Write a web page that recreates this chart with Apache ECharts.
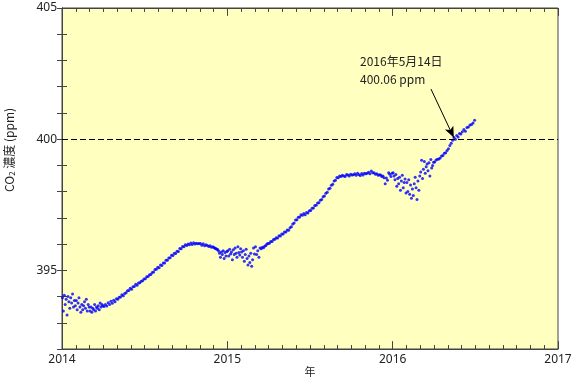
<!DOCTYPE html>
<html>
<head>
<meta charset="utf-8">
<script src="https://cdn.jsdelivr.net/npm/echarts@6/dist/echarts.min.js"></script>
<style>
html,body{margin:0;padding:0;background:#fff;}
#chart{width:573px;height:378px;}
</style>
</head>
<body>
<div id="chart"></div>
<script>
// ---- data ----
const months = [
  '2014-01','2014-02','2014-03','2014-04','2014-05','2014-06',
  '2014-07','2014-08','2014-09','2014-10','2014-11','2014-12',
  '2015-01','2015-02','2015-03','2015-04','2015-05','2015-06',
  '2015-07','2015-08','2015-09','2015-10','2015-11','2015-12',
  '2016-01','2016-02','2016-03','2016-04','2016-05','2016-06'
];
const co2Values = [
  [393.95,393.45,394.05,393.70,393.90,393.30,394.00,393.80,393.55,393.95,393.75,394.10,393.60,393.85,393.65],
  [393.85,393.50,393.75,393.95,393.60,393.40,393.70,393.50,393.65,393.80,393.55,393.90,393.45,393.70,393.60],
  [393.45,393.60,393.40,393.55,393.50,393.70,393.45,393.60,393.55,393.65,393.50,393.75,393.60,393.70,393.65],
  [393.62,393.70,393.64,393.76,393.70,393.82,393.74,393.86,393.80,393.92],
  [393.90,393.97,393.98,394.07,394.03,394.12,394.14,394.22,394.23,394.32],
  [394.28,394.37,394.38,394.47,394.43,394.52,394.53,394.58,394.60,394.67],
  [394.68,394.75,394.76,394.83,394.84,394.92,394.94,395.03,395.04,395.12],
  [395.10,395.20,395.18,395.28,395.28,395.38,395.38,395.47,395.48,395.57],
  [395.56,395.65,395.64,395.73,395.72,395.83,395.82,395.91,395.90,395.97],
  [395.95,396.00,395.97,396.04,395.98,396.05,396.00,396.03,396.01,396.02],
  [396.02,395.96,396.01,395.94,395.97,395.95,395.91,395.94,395.88,395.90],
  [395.87,395.84,395.83,395.80,395.79,395.74,395.65,395.50,395.70,395.60,395.75,395.45,395.68,395.55,395.72],
  [395.75,395.55,395.80,395.62,395.70,395.40,395.78,395.60,395.85,395.65,395.50,395.90,395.68,395.58,395.82],
  [395.70,395.50,395.75,395.35,395.60,395.80,395.45,395.20,395.55,395.30,395.65,395.15,395.40,395.85,395.62],
  [395.90,395.60,395.75,395.50,395.85,395.82,395.88,395.86,395.92,395.95,396.00,396.02],
  [396.03,396.10,396.10,396.17,396.18,396.24,396.23,396.32,396.31,396.38],
  [396.38,396.46,396.46,396.54,396.53,396.62,396.66,396.77,396.80,396.92],
  [396.93,397.02,397.03,397.12,397.10,397.17,397.12,397.20,397.18,397.27],
  [397.28,397.37,397.38,397.47,397.48,397.57,397.58,397.67,397.70,397.80],
  [397.83,397.94,397.98,398.10,398.13,398.24,398.28,398.40,398.43,398.54],
  [398.53,398.60,398.58,398.62,398.60,398.58,398.65,398.63,398.60,398.66],
  [398.63,398.64,398.68,398.62,398.70,398.64,398.61,398.69,398.63,398.70],
  [398.68,398.70,398.74,398.68,398.79,398.72,398.72,398.66,398.68,398.62],
  [398.64,398.63,398.58,398.60,398.53,398.30,398.52,398.43,398.72,398.66,398.58,398.70],
  [398.72,398.60,398.45,398.65,398.20,398.50,398.30,398.55,398.05,398.40,398.62,398.15,398.35,398.48,397.95],
  [398.35,398.00,398.45,397.90,398.25,397.75,398.10,397.85,398.30,398.55,398.15,397.70,398.40,398.05,398.60],
  [398.75,399.20,398.50,398.85,399.15,398.70,398.95,399.05,398.80,399.10,398.60,399.22,398.90,399.00,399.12],
  [399.13,399.21,399.23,399.24,399.28,399.36,399.38,399.46,399.48,399.57],
  [399.63,399.76,399.84,399.96,400.06,400.00,400.14,400.08,400.22,400.20],
  [400.28,400.37,400.30,400.44,400.46,400.54,400.56,400.62,400.72]
];
const xTickLabels = ['2014','2015','2016','2017'];
const yTickLabels = ['395','400','405'];
const xMajorTicks = [0, 12, 24, 36];          // months since Jan 2014 (year boundaries)
const xMinorTicks = [1,2,3,4,5,6,7,8,9,10,11,13,14,15,16,17,18,19,20,21,22,23,
                     25,26,27,28,29,30,31,32,33,34,35]; // month boundaries
const firstYear = 2014;
const referenceLevel = 400;
const annotationMonth = '2016-05';      // 2016年5月14日
const annotationDayFraction = 13.5 / 31;
const annotationValue = 400.06;
const annotationLines = ['2016年5月14日', '400.06 ppm'];
const arrowStartMonth = 26.78;          // months after Jan 2014
const arrowStartValue = 401.91;

const X_MIN = 0, X_MAX = 36, Y_MIN = 392, Y_MAX = 405;
const MAJOR_TICK_LEN = 0.30;   // in ppm units (about 8 px)
const MINOR_TICK_LEN = 0.15;   // about 4 px

function monthIndex(ym) {
  const p = ym.split('-').map(Number);
  return (p[0] - firstYear) * 12 + (p[1] - 1);
}
const points = [];
months.forEach((m, mi) => {
  const base = monthIndex(m);
  const vals = co2Values[mi];
  vals.forEach((v, k) => points.push([base + (k + 0.5) / vals.length, v]));
});
const annotationX = monthIndex(annotationMonth) + annotationDayFraction;

const FONT = 'Noto Sans';
const TXT = '#222';
const AX = '#444';

function xAxisDef(pos, withLabels) {
  const a = {
    type: 'value', min: X_MIN, max: X_MAX, interval: 12, position: pos,
    axisLine: {show: true, lineStyle: {color: AX, width: 1}},
    axisTick: {show: false},
    splitLine: {show: false},
    axisLabel: {show: false}
  };
  if (withLabels) {
    a.name = '年';
    a.nameLocation = 'middle';
    a.nameGap = 17;
    a.nameMoveOverlap = false;
    a.nameTextStyle = {fontFamily: 'Noto Sans CJK JP', fontSize: 11, color: TXT};
    a.axisLabel = {show: true, margin: 5, fontFamily: FONT, fontSize: 12, color: TXT,
      formatter: v => xTickLabels[Math.round(v / 12)] || ''};
  }
  return a;
}
function yAxisDef(pos, withLabels) {
  const a = {
    type: 'value', min: Y_MIN, max: Y_MAX, interval: 1, position: pos,
    axisLine: {show: true, lineStyle: {color: AX, width: 1}},
    axisTick: {show: true, inside: true, length: 5, lineStyle: {color: AX, width: 1}},
    splitLine: {show: false},
    axisLabel: {show: false}
  };
  if (withLabels) {
    a.axisLabel = {show: true, margin: 5, fontFamily: FONT, fontSize: 12, color: TXT,
      formatter: v => yTickLabels.indexOf(String(v)) >= 0 ? String(v) : ''};
  }
  return a;
}

// frame tick marks (top and bottom), placed through the axes' scales
const tickStyle = {type: 'solid', color: AX, width: 1};
const tickLines = [];
function addTicks(ticks, len) {
  ticks.forEach(t => {
    tickLines.push([{coord: [t, Y_MIN], symbol: 'none', lineStyle: tickStyle},
                    {coord: [t, Y_MIN + len], symbol: 'none'}]);
    tickLines.push([{coord: [t, Y_MAX], symbol: 'none', lineStyle: tickStyle},
                    {coord: [t, Y_MAX - len], symbol: 'none'}]);
  });
}
addTicks(xMajorTicks, MAJOR_TICK_LEN);
addTicks(xMinorTicks, MINOR_TICK_LEN);

const chart = echarts.init(document.getElementById('chart'));
chart.setOption({
  animation: false,
  backgroundColor: '#ffffff',
  grid: {left: 62, right: 15, top: 8, bottom: 29, show: true,
         outerBoundsMode: 'none',
         backgroundColor: '#FFFFC0', borderColor: AX, borderWidth: 1},
  xAxis: [xAxisDef('bottom', true), xAxisDef('top', false)],
  yAxis: [yAxisDef('left', true), yAxisDef('right', false)],
  graphic: [
    {type: 'text', left: 360, top: 55,
     style: {text: annotationLines[0], font: '12px "Noto Sans CJK JP"', fill: TXT}},
    {type: 'text', left: 360, top: 73,
     style: {text: annotationLines[1], font: '12px "Noto Sans CJK JP"', fill: TXT}},
    {type: 'text', x: 9, y: 150, rotation: Math.PI / 2,
     style: {
       text: '{a|CO}{s|2}{a| 濃度 (ppm)}',
       align: 'center', verticalAlign: 'middle',
       rich: {
         a: {fontFamily: 'Noto Sans CJK JP', fontSize: 12, fill: TXT},
         s: {fontFamily: 'Noto Sans CJK JP', fontSize: 8, fill: TXT, padding: [6, 0, 0, 0]}
       }
     }}
  ],
  series: [
    {
      type: 'scatter',
      xAxisIndex: 0, yAxisIndex: 0,
      data: points,
      symbol: 'circle',
      symbolSize: 3,
      itemStyle: {color: '#0000FF'},
      markLine: {
        silent: true,
        animation: false,
        data: [
          [{coord: [X_MIN, referenceLevel], symbol: 'none', lineStyle: {type: [6, 3], color: '#000', width: 1}},
           {coord: [X_MAX, referenceLevel], symbol: 'none'}],
          [{coord: [arrowStartMonth, arrowStartValue], symbol: 'none', lineStyle: {type: 'solid', color: '#000', width: 1}},
           {coord: [annotationX, annotationValue], symbol: 'arrow', symbolSize: [7, 11]}]
        ].concat(tickLines),
        label: {show: false}
      }
    }
  ]
});
</script>
</body>
</html>
